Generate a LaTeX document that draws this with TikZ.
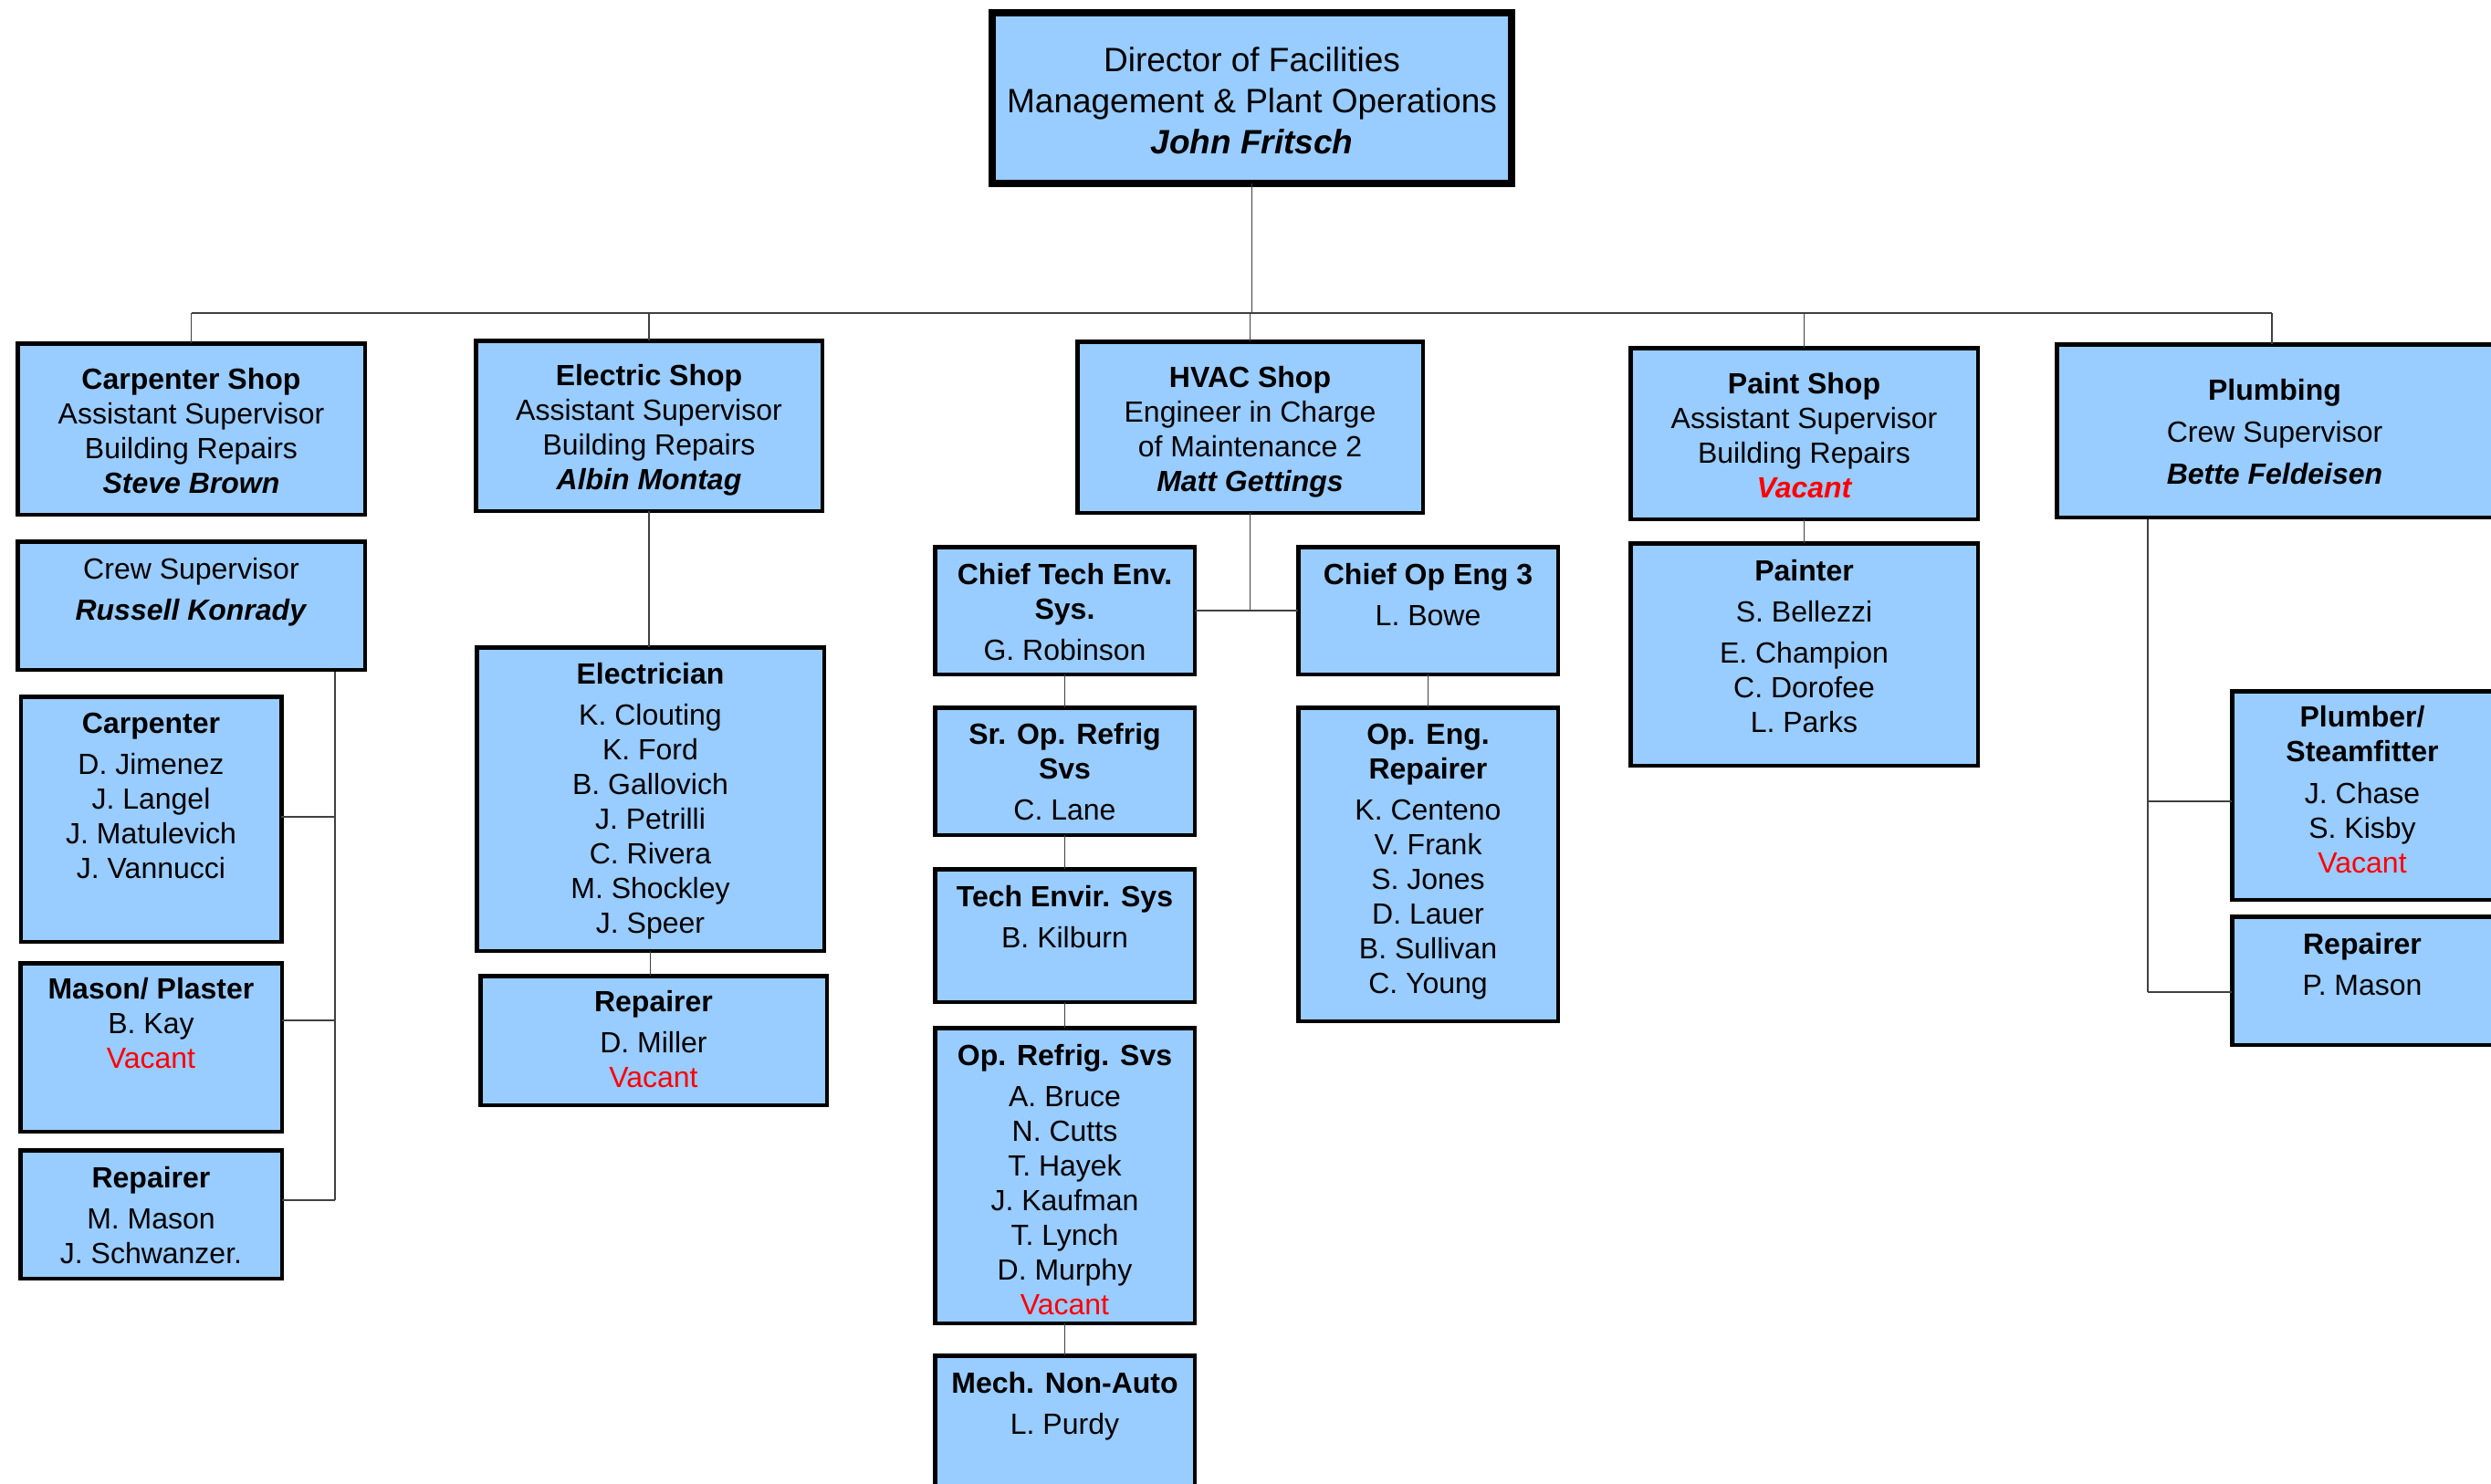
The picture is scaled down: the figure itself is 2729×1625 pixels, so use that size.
\documentclass[tikz,border=0pt]{standalone}
\usepackage{fontspec}
\setmainfont{Liberation Sans}
\definecolor{boxblue}{HTML}{99CCFF}
\definecolor{vred}{HTML}{FF0000}
\newcommand{\nmit}[1]{\textbf{\textit{#1}}}
\newcommand{\vac}{\textcolor{vred}{Vacant}}
\begin{document}
\begin{tikzpicture}[x=1pt,y=-1pt,
  box/.style={draw=black, line width=4.5pt, fill=boxblue, inner sep=0pt, outer sep=0pt, rectangle},
  dirbox/.style={box, line width=8pt},
  txt/.style={anchor=north, inner sep=0pt, align=center, font=\fontsize{32}{38}\selectfont},
  dirtxt/.style={txt, font=\fontsize{37}{45}\selectfont},
  conn/.style={draw=black!75, line width=1.6pt}]
\useasboundingbox (0,0) rectangle (2729,1625);
\clip (0,0) rectangle (2729,1625);

% ---- boxes ----
\node[dirbox, minimum width=569pt, minimum height=187pt] (dir) at (1371.5,107.5) {};
\node[box, minimum width=380.5pt, minimum height=187.5pt] (cshop) at (209.5,470) {};
\node[box, minimum width=380.5pt, minimum height=140.5pt] (ccrew) at (209.5,663.5) {};
\node[box, minimum width=285.5pt, minimum height=268.5pt] (carp) at (165.5,897.5) {};
\node[box, minimum width=286.5pt, minimum height=184.5pt] (mason) at (165.5,1147.5) {};
\node[box, minimum width=286.5pt, minimum height=140.5pt] (crep) at (165.5,1330.5) {};
\node[box, minimum width=379.5pt, minimum height=186.5pt] (eshop) at (711,466.5) {};
\node[box, minimum width=380.5pt, minimum height=332.5pt] (elec) at (712.5,875.5) {};
\node[box, minimum width=379.5pt, minimum height=141.5pt] (erep) at (716,1140) {};
\node[box, minimum width=378.5pt, minimum height=187.5pt] (hvac) at (1369.5,468) {};
\node[box, minimum width=284.5pt, minimum height=139.5pt] (ctech) at (1166.5,669) {};
\node[box, minimum width=284.5pt, minimum height=139.5pt] (cop) at (1564.5,669) {};
\node[box, minimum width=284.5pt, minimum height=139.5pt] (srop) at (1166.5,845) {};
\node[box, minimum width=284.5pt, minimum height=145.5pt] (tenv) at (1166.5,1025) {};
\node[box, minimum width=284.5pt, minimum height=323.5pt] (oprf) at (1166.5,1288) {};
\node[box, minimum width=284.5pt, minimum height=152.5pt] (mech) at (1166.5,1561.5) {};
\node[box, minimum width=284.5pt, minimum height=343.5pt] (openg) at (1564.5,947) {};
\node[box, minimum width=380.5pt, minimum height=187.5pt] (pshop) at (1976.5,475) {};
\node[box, minimum width=380.5pt, minimum height=243.5pt] (painter) at (1976.5,717) {};
\node[box, minimum width=477.5pt, minimum height=189.5pt] (plumb) at (2492,472) {};
\node[box, minimum width=285.5pt, minimum height=228.5pt] (pstf) at (2588,871.5) {};
\node[box, minimum width=285.5pt, minimum height=140.5pt] (prep) at (2588,1074.5) {};

% ---- texts ----
\node[dirtxt] (dir-t) at ([yshift=-37pt]dir.north) {Director of Facilities\\Management \& Plant Operations\\\nmit{John Fritsch}};
\node[txt] (cshop-t) at ([yshift=-26.5pt]cshop.north) {\textbf{Carpenter Shop}\\Assistant Supervisor\\Building Repairs\\\nmit{Steve Brown}};
\node[txt] (ccrew-t) at ([yshift=-18.3pt]ccrew.north) {Crew Supervisor\\[7pt]\nmit{Russell Konrady}};
\node[txt] (carp-t) at ([yshift=-17.2pt]carp.north) {\textbf{Carpenter}\\[7pt]D. Jimenez\\J. Langel\\J. Matulevich\\J. Vannucci};
\node[txt] (mason-t) at ([yshift=-15.8pt]mason.north) {\textbf{Mason/ Plaster}\\B. Kay\\\vac};
\node[txt] (crep-t) at ([yshift=-17.8pt]crep.north) {\textbf{Repairer}\\[7pt]M. Mason\\J. Schwanzer.};
\node[txt] (eshop-t) at ([yshift=-25.8pt]eshop.north) {\textbf{Electric Shop}\\Assistant Supervisor\\Building Repairs\\\nmit{Albin Montag}};
\node[txt] (elec-t) at ([yshift=-17.2pt]elec.north) {\textbf{Electrician}\\[7pt]K. Clouting\\K. Ford\\B. Gallovich\\J. Petrilli\\C. Rivera\\M. Shockley\\J. Speer};
\node[txt] (erep-t) at ([yshift=-15.8pt]erep.north) {\textbf{Repairer}\\[7pt]D. Miller\\\vac};
\node[txt] (hvac-t) at ([yshift=-26.8pt]hvac.north) {\textbf{HVAC Shop}\\Engineer in Charge\\of Maintenance 2\\\nmit{Matt Gettings}};
\node[txt] (ctech-t) at ([yshift=-17.6pt]ctech.north) {\textbf{Chief Tech Env.}\\\textbf{Sys.}\\[7pt]G. Robinson};
\node[txt] (cop-t) at ([yshift=-17.6pt]cop.north) {\textbf{Chief Op Eng 3}\\[7pt]L. Bowe};
\node[txt] (srop-t) at ([yshift=-17.3pt]srop.north) {\textbf{Sr. Op. Refrig}\\\textbf{Svs}\\[7pt]C. Lane};
\node[txt] (tenv-t) at ([yshift=-17.8pt]tenv.north) {\textbf{Tech Envir. Sys}\\[7pt]B. Kilburn};
\node[txt] (oprf-t) at ([yshift=-17.8pt]oprf.north) {\textbf{Op. Refrig. Svs}\\[7pt]A. Bruce\\N. Cutts\\T. Hayek\\J. Kaufman\\T. Lynch\\D. Murphy\\\vac};
\node[txt] (mech-t) at ([yshift=-17.4pt]mech.north) {\textbf{Mech. Non-Auto}\\[7pt]L. Purdy};
\node[txt] (openg-t) at ([yshift=-17.3pt]openg.north) {\textbf{Op. Eng.}\\\textbf{Repairer}\\[7pt]K. Centeno\\V. Frank\\S. Jones\\D. Lauer\\B. Sullivan\\C. Young};
\node[txt] (pshop-t) at ([yshift=-26.8pt]pshop.north) {\textbf{Paint Shop}\\Assistant Supervisor\\Building Repairs\\{\bfseries\itshape\color{vred}Vacant}};
\node[txt] (painter-t) at ([yshift=-18pt]painter.north) {\textbf{Painter}\\[7pt]S. Bellezzi\\[7pt]E. Champion\\C. Dorofee\\L. Parks};
\node[txt] (plumb-t) at ([yshift=-37.8pt]plumb.north) {\textbf{Plumbing}\\[8pt]Crew Supervisor\\[8pt]\nmit{Bette Feldeisen}};
\node[txt] (pstf-t) at ([yshift=-16.3pt]pstf.north) {\textbf{Plumber/}\\\textbf{Steamfitter}\\[8pt]J. Chase\\S. Kisby\\\vac};
\node[txt] (prep-t) at ([yshift=-18pt]prep.north) {\textbf{Repairer}\\[7pt]P. Mason};

% ---- connectors ----
\coordinate (bus) at (0,343);
\draw[conn] (dir.south) -- (dir.south |- bus);
\draw[conn] (cshop.north |- bus) -- (2489,343) coordinate (busend);
\foreach \n in {cshop,eshop,hvac,pshop}{\draw[conn] (\n.north) -- (\n.north |- bus);}
\draw[conn] (busend) -- (busend |- plumb.north);

% carpenter branch
\coordinate (ctop) at (367,736);
\coordinate (cb1) at (367,895);
\coordinate (cb2) at (367,1118);
\coordinate (cb3) at (367,1315);
\draw[conn] (ctop) -- (cb3);
\draw[conn] (cb1) -- (carp.east |- cb1);
\draw[conn] (cb2) -- (mason.east |- cb2);
\draw[conn] (cb3) -- (crep.east |- cb3);

% electric
\draw[conn] (eshop.south) -- (eshop.south |- elec.north);
\draw[conn] (elec.south) -- (elec.south |- erep.north);

% hvac
\draw[conn] (ctech.east) -- (cop.west);
\draw[conn] (hvac.south) -- (hvac.south |- ctech.east);
\draw[conn] (ctech.south) -- (srop.north);
\draw[conn] (srop.south) -- (tenv.north);
\draw[conn] (tenv.south) -- (oprf.north);
\draw[conn] (oprf.south) -- (mech.north);
\draw[conn] (cop.south) -- (openg.north);

% paint
\draw[conn] (pshop.south) -- (painter.north);

% plumbing
\coordinate (ptop) at (2353,569);
\coordinate (pb1) at (2353,878);
\coordinate (pb2) at (2353,1087);
\draw[conn] (ptop) -- (pb2);
\draw[conn] (pb1) -- (pstf.west |- pb1);
\draw[conn] (pb2) -- (prep.west |- pb2);
\end{tikzpicture}
\end{document}
